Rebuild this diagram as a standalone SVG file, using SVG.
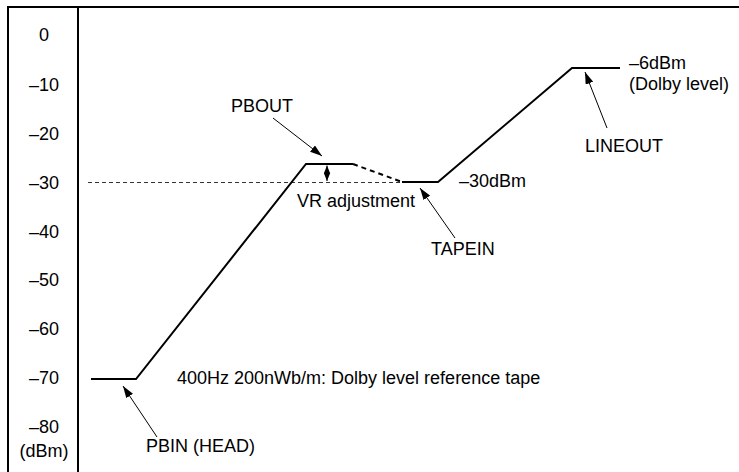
<svg xmlns="http://www.w3.org/2000/svg" width="739" height="472" viewBox="0 0 739 472">
<defs>
<marker id="ah" viewBox="0 0 12 8" refX="12" refY="4" markerWidth="12" markerHeight="8" markerUnits="userSpaceOnUse" orient="auto">
<path d="M0,0 L12,4 L0,8 z" fill="#000"/>
</marker>
<marker id="ahs" viewBox="0 0 10 8" refX="10" refY="4" markerWidth="8" markerHeight="7" markerUnits="userSpaceOnUse" orient="auto-start-reverse">
<path d="M0,0 L10,4 L0,8 z" fill="#000"/>
</marker>
</defs>
<style>
text{font-family:"Liberation Sans",Arial,sans-serif;font-size:18px;fill:#000}
.ax{text-anchor:middle}
.frame{stroke:#000;stroke-width:2;fill:none}
.curve{stroke:#000;stroke-width:2;fill:none}
.ptr{stroke:#000;stroke-width:1;fill:none}
</style>
<rect width="739" height="472" fill="#fff"/>
<g id="frame">
<path class="frame" d="M8,472 V7 H739 M78,7 V472"/>
</g>
<g id="axis">
<text class="ax" x="44" y="41">0</text>
<text class="ax" x="44" y="90.5">–10</text>
<text class="ax" x="44" y="139.5">–20</text>
<text class="ax" x="44" y="188.5">–30</text>
<text class="ax" x="44" y="237.5">–40</text>
<text class="ax" x="44" y="286">–50</text>
<text class="ax" x="44" y="335">–60</text>
<text class="ax" x="44" y="384">–70</text>
<text class="ax" x="44" y="433">–80</text>
<text class="ax" x="44" y="457">(dBm)</text>
</g>
<g id="connectors">
<line x1="88" y1="182.5" x2="402" y2="182.5" stroke="#000" stroke-width="0.8" stroke-dasharray="4,3"/>
<path class="curve" d="M91,379 H136 L306,164 H353"/>
<path class="curve" d="M353,164 L402,182" stroke-dasharray="5,4"/>
<path class="curve" d="M402,182 H438 L572,68 H620"/>
<line x1="327" y1="165.5" x2="327" y2="181" class="ptr" marker-start="url(#ahs)" marker-end="url(#ahs)"/>
<line x1="273" y1="118" x2="322" y2="156" class="ptr" marker-end="url(#ah)"/>
<line x1="455" y1="238" x2="420" y2="188" class="ptr" marker-end="url(#ah)"/>
<line x1="607" y1="128" x2="585" y2="72" class="ptr" marker-end="url(#ah)"/>
<line x1="157" y1="437" x2="123" y2="386" class="ptr" marker-end="url(#ah)"/>
</g>
<g id="labels">
<text x="231" y="112">PBOUT</text>
<text x="297" y="207">VR adjustment</text>
<text x="431" y="255">TAPEIN</text>
<text x="459" y="187">–30dBm</text>
<text x="629" y="69">–6dBm</text>
<text x="629" y="90">(Dolby level)</text>
<text x="585" y="152">LINEOUT</text>
<text x="177" y="384">400Hz 200nWb/m: Dolby level reference tape</text>
<text x="146" y="452">PBIN (HEAD)</text>
</g>
</svg>
